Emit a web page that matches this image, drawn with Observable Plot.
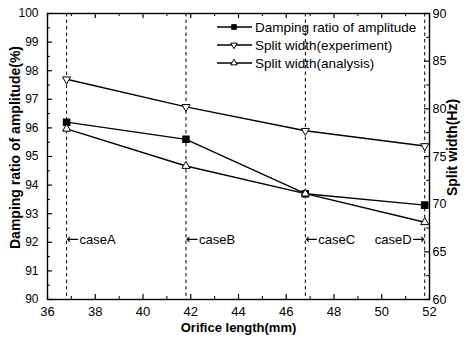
<!DOCTYPE html>
<html><head><meta charset="utf-8">
<script src="https://cdn.jsdelivr.net/npm/d3@7"></script>
<script src="https://cdn.jsdelivr.net/npm/@observablehq/plot@0.6"></script>
<style>body{margin:0;background:#fff;} #chart{width:476px;height:339px;}</style>
</head><body><div id="chart"></div>
<script>
// ---- data ----
const orificeLength = [36.8, 41.8, 46.8, 51.8];
const dampingRatio = [96.2, 95.6, 93.7, 93.3];          // left axis (%)
const splitExperiment = [83.1, 80.2, 77.7, 76.1];       // right axis (Hz)
const splitAnalysis = [77.9, 74.0, 71.1, 68.1];         // right axis (Hz)
const caseLabels = ["caseA", "caseB", "caseC", "caseD"];
const caseLabelLevel = 92.1;
const seriesNames = ["Damping ratio of amplitude", "Split width(experiment)", "Split width(analysis)"];
const xMajorTicks = [36, 38, 40, 42, 44, 46, 48, 50, 52];
const xMinorTicks = [37, 39, 41, 43, 45, 47, 49, 51];
const leftMajorTicks = [90, 91, 92, 93, 94, 95, 96, 97, 98, 99, 100];
const leftMinorTicks = [90.5, 91.5, 92.5, 93.5, 94.5, 95.5, 96.5, 97.5, 98.5, 99.5];
const rightMajorTicks = [60, 65, 70, 75, 80, 85, 90];
const rightMinorTicks = [62.5, 67.5, 72.5, 77.5, 82.5, 87.5];
const leftDomain = [90, 100];
const rightDomain = [60, 90];
const xDomain = [36, 52];

// ---- layout ----
const W = 476, H = 339;
const M = {top: 13, right: 47, bottom: 40, left: 47};
const plotW = W - M.left - M.right, plotH = H - M.top - M.bottom;
const font = "'Liberation Sans', Arial, Helvetica, sans-serif";

// right axis values mapped into left-axis units
const toLeft = d3.scaleLinear(rightDomain, leftDomain);

const rows = [];
orificeLength.forEach((x, i) => {
  rows.push({series: seriesNames[0], x, y: dampingRatio[i]});
  rows.push({series: seriesNames[1], x, y: toLeft(splitExperiment[i])});
  rows.push({series: seriesNames[2], x, y: toLeft(splitAnalysis[i])});
});
const cases = orificeLength.map((x, i) => ({x, label: caseLabels[i]}));

const legendMark = () => {
  const g = d3.create("svg:g").attr("font-family", font).attr("font-size", 13.5).attr("text-anchor", "start");
  const x0 = 217, x1 = 252, xm = 234, xt = 255;
  const rowY = [27, 45, 63];
  const syms = [
    {type: d3.symbolSquare, size: 22, fill: "black", rot: 0},
    {type: d3.symbolTriangle, size: 18, fill: "white", rot: 180},
    {type: d3.symbolTriangle, size: 18, fill: "white", rot: 0}
  ];
  seriesNames.forEach((name, i) => {
    const y = rowY[i];
    g.append("line").attr("x1", x0).attr("x2", x1).attr("y1", y).attr("y2", y)
      .attr("stroke", "black").attr("stroke-width", 1.3);
    g.append("path").attr("d", d3.symbol(syms[i].type, syms[i].size)())
      .attr("transform", `translate(${xm},${y}) rotate(${syms[i].rot})`)
      .attr("fill", syms[i].fill).attr("stroke", "black").attr("stroke-width", 1);
    g.append("text").attr("x", xt).attr("y", y).attr("dy", "0.35em").attr("text-anchor", "start").text(name);
  });
  return g.node();
};

const chart = Plot.plot({
  width: W, height: H,
  marginTop: M.top, marginRight: M.right, marginBottom: M.bottom, marginLeft: M.left,
  style: {fontFamily: font, fontSize: "12px", background: "white", color: "black"},
  x: {domain: xDomain, label: null},
  y: {domain: leftDomain, label: null},
  marks: [
    Plot.ruleX(orificeLength, {x: d => d, stroke: "black", strokeWidth: 1, strokeDasharray: "3.5,3"}),
    Plot.line(rows, {x: "x", y: "y", z: "series", stroke: "black", strokeWidth: 1.4}),
    Plot.dot(rows.filter(d => d.series === seriesNames[0]), {x: "x", y: "y", symbol: "square", r: 3.4, fill: "black", stroke: "black"}),
    Plot.dot(rows.filter(d => d.series === seriesNames[1]), {x: "x", y: "y", symbol: "triangle", r: 3, rotate: 180, fill: "white", stroke: "black", strokeWidth: 1}),
    Plot.dot(rows.filter(d => d.series === seriesNames[2]), {x: "x", y: "y", symbol: "triangle", r: 3, fill: "white", stroke: "black", strokeWidth: 1}),
    // inward ticks
    Plot.tickX(xMajorTicks, {x: d => d, insetTop: plotH - 5, stroke: "black", strokeWidth: 1.2}),
    Plot.tickX(xMinorTicks, {x: d => d, insetTop: plotH - 3, stroke: "black", strokeWidth: 1}),
    Plot.tickX(xMajorTicks, {x: d => d, insetBottom: plotH - 5, stroke: "black", strokeWidth: 1.2}),
    Plot.tickX(xMinorTicks, {x: d => d, insetBottom: plotH - 3, stroke: "black", strokeWidth: 1}),
    Plot.tickY(leftMajorTicks, {y: d => d, insetRight: plotW - 5, stroke: "black", strokeWidth: 1.2}),
    Plot.tickY(leftMinorTicks, {y: d => d, insetRight: plotW - 3, stroke: "black", strokeWidth: 1}),
    Plot.tickY(rightMajorTicks.map(toLeft), {y: d => d, insetLeft: plotW - 5, stroke: "black", strokeWidth: 1.2}),
    Plot.tickY(rightMinorTicks.map(toLeft), {y: d => d, insetLeft: plotW - 3, stroke: "black", strokeWidth: 1}),
    Plot.frame({stroke: "black", strokeWidth: 1.4}),
    // axes
    Plot.axisX({ticks: xMajorTicks, tickSize: 0, tickPadding: 7, fontSize: 13}),
    Plot.axisY({anchor: "left", ticks: leftMajorTicks, tickSize: 0, tickPadding: 9, fontSize: 12}),
    Plot.axisY({anchor: "right", ticks: rightMajorTicks.map(toLeft), tickFormat: d => Math.round(toLeft.invert(d)), tickSize: 0, tickPadding: 3, fontSize: 12.5}),
    // case annotations
    Plot.vector(cases.slice(0, 3), {x: "x", y: () => caseLabelLevel, length: 10, rotate: -90, anchor: "end", stroke: "black", strokeWidth: 1.2, dx: 1}),
    Plot.text(cases.slice(0, 3), {x: "x", y: () => caseLabelLevel, text: "label", dx: 13, textAnchor: "start", fontSize: 13}),
    Plot.vector(cases.slice(3), {x: "x", y: () => caseLabelLevel, length: 10, rotate: 90, anchor: "end", stroke: "black", strokeWidth: 1.2, dx: -1}),
    Plot.text(cases.slice(3), {x: "x", y: () => caseLabelLevel, text: "label", dx: -13, textAnchor: "end", fontSize: 13}),
    // axis titles
    Plot.text(["Orifice length(mm)"], {frameAnchor: "bottom", dy: 28, lineAnchor: "middle", textAnchor: "middle", fontSize: 13, fontWeight: "bold"}),
    Plot.text(["Damping ratio of amplitude(%)"], {frameAnchor: "left", dx: -32, dy: -9, rotate: -90, textAnchor: "middle", lineAnchor: "middle", fontSize: 14, fontWeight: "bold"}),
    Plot.text(["Split width(Hz)"], {frameAnchor: "right", dx: 23, dy: -9, rotate: -90, textAnchor: "middle", lineAnchor: "middle", fontSize: 14, fontWeight: "bold"}),
    legendMark
  ]
});
document.getElementById("chart").append(chart);
</script>
</body></html>
